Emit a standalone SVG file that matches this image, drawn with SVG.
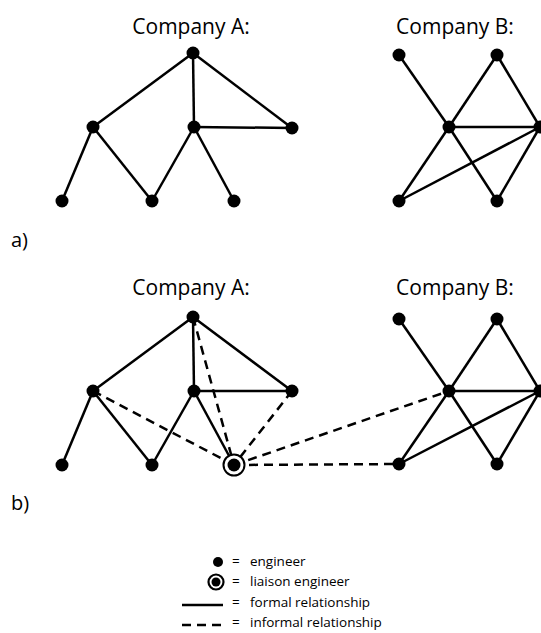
<svg xmlns="http://www.w3.org/2000/svg" width="541" height="633" viewBox="0 0 541 633">
<style>
.t{font-family:"Open Sans","Liberation Sans",sans-serif;fill:#000}
.h{font-size:21px;text-anchor:middle}
.l{font-size:20px}
.g{font-size:13.5px}
.f{stroke:#000;stroke-width:2.5;fill:none}
.d{stroke:#000;stroke-width:2.5;fill:none;stroke-dasharray:9 6}
.n{fill:#000}
</style>
<rect width="541" height="633" fill="#fff"/>
<text class="t h" x="191" y="34">Company A:</text>
<text class="t h" x="455" y="34">Company B:</text>
<text class="t l" x="11" y="247">a)</text>
<text class="t h" x="191" y="295">Company A:</text>
<text class="t h" x="455" y="295">Company B:</text>
<text class="t l" x="11" y="510">b)</text>
<g id="connectors">
<g class="f">
<line x1="193" y1="53" x2="93" y2="127"/><line x1="193" y1="53" x2="194" y2="127"/><line x1="193" y1="53" x2="292" y2="128"/><line x1="194" y1="127" x2="292" y2="128"/>
<line x1="93" y1="127" x2="62" y2="201"/><line x1="93" y1="127" x2="152" y2="201"/><line x1="194" y1="127" x2="152" y2="201"/><line x1="194" y1="127" x2="234" y2="201"/>
<line x1="399" y1="55" x2="449" y2="127"/><line x1="449" y1="127" x2="497" y2="55"/><line x1="497" y1="55" x2="540" y2="127"/><line x1="449" y1="127" x2="540" y2="127"/>
<line x1="449" y1="127" x2="399" y2="201"/><line x1="449" y1="127" x2="497" y2="201"/><line x1="399" y1="201" x2="540" y2="127"/><line x1="497" y1="201" x2="540" y2="127"/>
<line x1="193" y1="317" x2="93" y2="391"/><line x1="193" y1="317" x2="194" y2="391"/><line x1="193" y1="317" x2="292" y2="391"/><line x1="194" y1="391" x2="292" y2="391"/>
<line x1="93" y1="391" x2="62" y2="465"/><line x1="93" y1="391" x2="152" y2="465"/><line x1="194" y1="391" x2="152" y2="465"/><line x1="194" y1="391" x2="234" y2="465"/>
<line x1="399" y1="319" x2="449" y2="391"/><line x1="449" y1="391" x2="497" y2="319"/><line x1="497" y1="319" x2="540" y2="391"/><line x1="449" y1="391" x2="540" y2="391"/>
<line x1="449" y1="391" x2="399" y2="464"/><line x1="449" y1="391" x2="497" y2="464"/><line x1="399" y1="464" x2="540" y2="391"/><line x1="497" y1="464" x2="540" y2="391"/>
</g>
<g class="d">
<line x1="193" y1="317" x2="234" y2="465"/><line x1="93" y1="391" x2="234" y2="465"/><line x1="292" y1="391" x2="234" y2="465"/>
<line x1="234" y1="465" x2="449" y2="391"/><line x1="234" y1="465" x2="399" y2="464"/>
</g>
</g>
<g id="nodesA1" class="n">
<circle id="a1" cx="193" cy="53" r="6.5"/><circle id="a2" cx="93" cy="127" r="6.5"/><circle id="a3" cx="194" cy="127" r="6.5"/><circle id="a4" cx="292" cy="128" r="6.5"/>
<circle id="a5" cx="62" cy="201" r="6.5"/><circle id="a6" cx="152" cy="201" r="6.5"/><circle id="a7" cx="234" cy="201" r="6.5"/>
</g>
<g id="nodesB1" class="n">
<circle id="b1" cx="399" cy="55" r="6.5"/><circle id="b2" cx="497" cy="55" r="6.5"/><circle id="b3" cx="449" cy="127" r="6.5"/><circle id="b4" cx="540" cy="127" r="6.5"/>
<circle id="b5" cx="399" cy="201" r="6.5"/><circle id="b6" cx="497" cy="201" r="6.5"/>
</g>
<g id="nodesA2" class="n">
<circle id="c1" cx="193" cy="317" r="6.5"/><circle id="c2" cx="93" cy="391" r="6.5"/><circle id="c3" cx="194" cy="391" r="6.5"/><circle id="c4" cx="292" cy="391" r="6.5"/>
<circle id="c5" cx="62" cy="465" r="6.5"/><circle id="c6" cx="152" cy="465" r="6.5"/>
</g>
<g id="liaison">
<circle cx="234" cy="465" r="10.5" fill="#fff" stroke="#000" stroke-width="2"/>
<circle cx="234" cy="465" r="6.5" fill="#000"/>
</g>
<g id="nodesB2" class="n">
<circle id="d1" cx="399" cy="319" r="6.5"/><circle id="d2" cx="497" cy="319" r="6.5"/><circle id="d3" cx="449" cy="391" r="6.5"/><circle id="d4" cx="540" cy="391" r="6.5"/>
<circle id="d5" cx="399" cy="464" r="6.5"/><circle id="d6" cx="497" cy="464" r="6.5"/>
</g>
<g id="legend">
<circle cx="218" cy="562" r="5" fill="#000"/>
<circle cx="216" cy="582" r="7.5" fill="#fff" stroke="#000" stroke-width="2.2"/>
<circle cx="216" cy="582" r="4.5" fill="#000"/>
<line class="f" x1="182" y1="605" x2="223" y2="605"/>
<line class="d" x1="182" y1="625" x2="223" y2="625" stroke-dasharray="7 7"/>
<text class="t g" x="232" y="566">=</text><text class="t g" x="250" y="566">engineer</text>
<text class="t g" x="232" y="586">=</text><text class="t g" x="250" y="586">liaison engineer</text>
<text class="t g" x="232" y="607">=</text><text class="t g" x="250" y="607">formal relationship</text>
<text class="t g" x="232" y="627">=</text><text class="t g" x="250" y="627">informal relationship</text>
</g>
</svg>
